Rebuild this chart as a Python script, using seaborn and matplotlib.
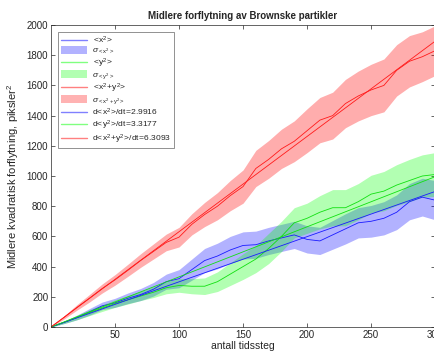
import matplotlib
matplotlib.use('Agg')
import matplotlib.pyplot as plt
import numpy as np
import pandas as pd
import seaborn as sns
from matplotlib.lines import Line2D
from matplotlib.patches import Patch

sns.set_theme(style="white")
plt.rcParams['font.family'] = ['Liberation Sans', 'DejaVu Sans']
plt.rcParams['mathtext.fontset'] = 'custom'
plt.rcParams['mathtext.rm'] = 'Liberation Sans'
plt.rcParams['mathtext.it'] = 'Liberation Sans:italic'

# time steps
steps = [0, 10, 20, 30, 40, 50, 60, 70, 80, 90, 100, 110, 120, 130, 140, 150,
         160, 170, 180, 190, 200, 210, 220, 230, 240, 250, 260, 270, 280, 290, 300]

# mean square displacement
x2_mean = [0, 30, 62, 100, 140, 160, 190, 215, 250, 300, 320, 380, 440, 470, 510, 540,
           545, 570, 590, 610, 580, 570, 610, 650, 690, 700, 720, 760, 830, 860, 840]
x2_std = [0, 8, 15, 22, 25, 30, 35, 40, 45, 50, 60, 70, 80, 85, 90, 90,
          90, 90, 90, 90, 90, 90, 95, 100, 100, 105, 110, 115, 120, 125, 130]

y2_mean = [0, 30, 62, 95, 125, 155, 180, 205, 230, 260, 275, 270, 270, 300, 350, 400,
           450, 520, 600, 690, 720, 760, 790, 790, 830, 880, 900, 940, 970, 1000, 1010]
y2_std = [0, 8, 15, 20, 22, 25, 28, 30, 35, 40, 45, 50, 55, 65, 75, 85,
          90, 100, 100, 100, 100, 110, 120, 120, 120, 125, 130, 135, 140, 140, 145]

r2_mean = [0, 62, 128, 190, 255, 312, 375, 440, 500, 560, 595, 680, 745, 800, 870, 930,
           1050, 1110, 1180, 1230, 1300, 1370, 1400, 1480, 1530, 1570, 1600, 1700, 1760, 1790, 1830]
r2_std = [0, 10, 18, 25, 30, 35, 40, 45, 50, 55, 65, 70, 80, 90, 100, 110,
          120, 125, 130, 135, 145, 150, 155, 160, 165, 170, 175, 170, 170, 165, 165]

# fitted slopes (from legend) and their end points
slopes = {"x2": 2.9916, "y2": 3.3177, "r2": 6.3093}
fit_t = [0, 300]
fit_x2 = [0, 897.5]
fit_y2 = [0, 995.3]
fit_r2 = [0, 1892.8]

df = pd.DataFrame({"t": steps, "x2": x2_mean, "y2": y2_mean, "r2": r2_mean,
                   "sx": x2_std, "sy": y2_std, "sr": r2_std})
fit_df = pd.DataFrame({"t": fit_t, "x2": fit_x2, "y2": fit_y2, "r2": fit_r2})

fig = plt.figure(figsize=(4.34, 3.54), dpi=100)
ax = fig.add_axes([0.1175, 0.0763, 0.885, 0.853])

blue, green, red = "#1a1aff", "#10e010", "#ff1a1a"

ax.fill_between(df["t"], df["x2"] - df["sx"], df["x2"] + df["sx"], color=(0, 0, 1), alpha=0.3, lw=0)
ax.fill_between(df["t"], df["y2"] - df["sy"], df["y2"] + df["sy"], color=(0, 1, 0), alpha=0.3, lw=0)
ax.fill_between(df["t"], df["r2"] - df["sr"], df["r2"] + df["sr"], color=(1, 0, 0), alpha=0.32, lw=0)

sns.lineplot(data=df, x="t", y="x2", color=blue, lw=0.6, ax=ax)
sns.lineplot(data=df, x="t", y="y2", color=green, lw=0.6, ax=ax)
sns.lineplot(data=df, x="t", y="r2", color=red, lw=0.6, ax=ax)
sns.lineplot(data=fit_df, x="t", y="x2", color=blue, lw=0.6, ax=ax)
sns.lineplot(data=fit_df, x="t", y="y2", color=green, lw=0.6, ax=ax)
sns.lineplot(data=fit_df, x="t", y="r2", color=red, lw=0.6, ax=ax)

ax.set_xlim(0, 300)
ax.set_ylim(0, 2000)
ax.set_xticks([50, 100, 150, 200, 250, 300])
ax.set_yticks(range(0, 2001, 200))
ax.tick_params(direction="in", length=3, width=0.5, labelsize=7, colors="#262626",
               top=True, right=True, bottom=True, left=True, pad=2)
for s in ax.spines.values():
    s.set_color("#262626")
    s.set_linewidth(0.5)

ax.set_title("Midlere forflytning av Brownske partikler", fontsize=7,
             fontweight="bold", pad=4)
ax.set_xlabel("antall tidssteg", fontsize=7.5, labelpad=1)
ax.set_ylabel("Midlere kvadratisk forflytning, piksler$^2$", fontsize=8, labelpad=4)

handles = [
    Line2D([], [], color="#8080ff", lw=1),
    Patch(facecolor=(0, 0, 1, 0.3), edgecolor="none"),
    Line2D([], [], color="#80ff80", lw=1),
    Patch(facecolor=(0, 1, 0, 0.3), edgecolor="none"),
    Line2D([], [], color="#ff8080", lw=1),
    Patch(facecolor=(1, 0, 0, 0.3), edgecolor="none"),
    Line2D([], [], color="#8080ff", lw=1),
    Line2D([], [], color="#80ff80", lw=1),
    Line2D([], [], color="#ff8080", lw=1),
]
labels = [
    r"$<\!\mathrm{x}^2\!>$",
    r"$\sigma_{<\mathrm{x}^2>}$",
    r"$<\!\mathrm{y}^2\!>$",
    r"$\sigma_{<\mathrm{y}^2>}$",
    r"$<\!\mathrm{x}^2\!+\!\mathrm{y}^2\!>$",
    r"$\sigma_{<\mathrm{x}^2+\mathrm{y}^2>}$",
    r"$\mathrm{d}\!<\!\mathrm{x}^2\!>\!\mathrm{/dt}\!=\!%.4f$" % slopes["x2"],
    r"$\mathrm{d}\!<\!\mathrm{y}^2\!>\!\mathrm{/dt}\!=\!%.4f$" % slopes["y2"],
    r"$\mathrm{d}\!<\!\mathrm{x}^2\!+\!\mathrm{y}^2\!>\!\mathrm{/dt}\!=\!%.4f$" % slopes["r2"],
]
leg = ax.legend(handles, labels, loc="upper left", fontsize=6.1, frameon=True,
                fancybox=False, edgecolor="#404040", handlelength=3.0,
                handleheight=1.0, labelspacing=0.05, borderpad=0.35,
                handletextpad=0.6, bbox_to_anchor=(0.008, 0.992))
leg.get_frame().set_linewidth(0.5)

fig.savefig("out.png", dpi=100)
